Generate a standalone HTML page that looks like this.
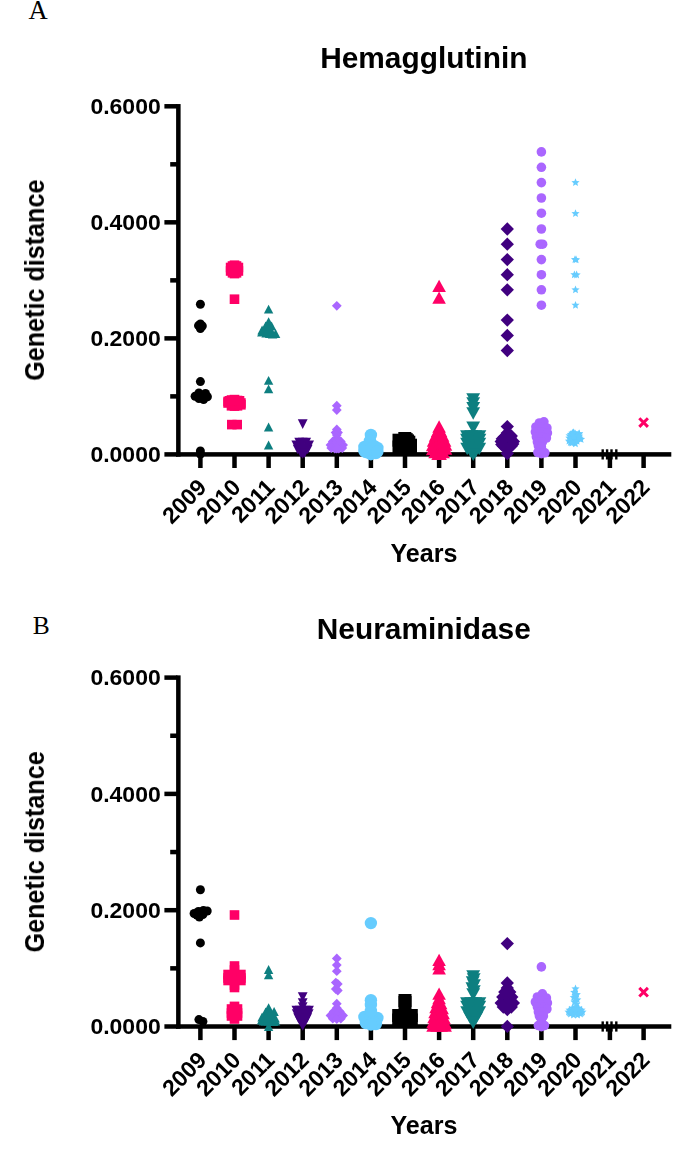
<!DOCTYPE html>
<html><head><meta charset="utf-8"><title>Genetic distance</title>
<style>html,body{margin:0;padding:0;background:#fff;}body{width:685px;height:1162px;overflow:hidden;font-family:"Liberation Sans",sans-serif;}svg{display:block;}</style>
</head><body>
<svg width="685" height="1162" viewBox="0 0 685 1162" font-family="Liberation Sans, sans-serif" fill="#000">
<defs><filter id="bl" x="0" y="0" width="685" height="1162" filterUnits="userSpaceOnUse"><feGaussianBlur stdDeviation="0.55"/></filter></defs>
<rect width="685" height="1162" fill="#fff"/>
<text x="28.6" y="18.6" font-family="Liberation Serif, serif" font-size="26.6">A</text>
<text x="32.7" y="634.3" font-family="Liberation Serif, serif" font-size="25.5">B</text>
<g id="pA" filter="url(#bl)">
<rect x="176.10" y="104.05" width="4.5" height="352.60" fill="#000"/>
<rect x="176.10" y="452.15" width="495.20" height="4.5" fill="#000"/>
<rect x="164.4" y="452.15" width="13" height="4.5" fill="#000"/>
<text transform="translate(160.7,462.00) scale(1,0.945)" text-anchor="end" font-size="23" font-weight="bold">0.0000</text>
<rect x="170.2" y="394.13" width="7" height="4.5" fill="#000"/>
<rect x="164.4" y="336.12" width="13" height="4.5" fill="#000"/>
<text transform="translate(160.7,345.97) scale(1,0.945)" text-anchor="end" font-size="23" font-weight="bold">0.2000</text>
<rect x="170.2" y="278.10" width="7" height="4.5" fill="#000"/>
<rect x="164.4" y="220.08" width="13" height="4.5" fill="#000"/>
<text transform="translate(160.7,229.93) scale(1,0.945)" text-anchor="end" font-size="23" font-weight="bold">0.4000</text>
<rect x="170.2" y="162.07" width="7" height="4.5" fill="#000"/>
<rect x="164.4" y="104.05" width="13" height="4.5" fill="#000"/>
<text transform="translate(160.7,113.90) scale(1,0.945)" text-anchor="end" font-size="23" font-weight="bold">0.6000</text>
<rect x="198.15" y="454.40" width="4.5" height="13.6" fill="#000"/>
<text transform="translate(207.90,488.70) rotate(-45)" text-anchor="end" font-size="23" font-weight="bold">2009</text>
<rect x="232.25" y="454.40" width="4.5" height="13.6" fill="#000"/>
<text transform="translate(242.00,488.70) rotate(-45)" text-anchor="end" font-size="23" font-weight="bold">2010</text>
<rect x="266.35" y="454.40" width="4.5" height="13.6" fill="#000"/>
<text transform="translate(276.10,488.70) rotate(-45)" text-anchor="end" font-size="23" font-weight="bold">2011</text>
<rect x="300.45" y="454.40" width="4.5" height="13.6" fill="#000"/>
<text transform="translate(310.20,488.70) rotate(-45)" text-anchor="end" font-size="23" font-weight="bold">2012</text>
<rect x="334.55" y="454.40" width="4.5" height="13.6" fill="#000"/>
<text transform="translate(344.30,488.70) rotate(-45)" text-anchor="end" font-size="23" font-weight="bold">2013</text>
<rect x="368.65" y="454.40" width="4.5" height="13.6" fill="#000"/>
<text transform="translate(378.40,488.70) rotate(-45)" text-anchor="end" font-size="23" font-weight="bold">2014</text>
<rect x="402.75" y="454.40" width="4.5" height="13.6" fill="#000"/>
<text transform="translate(412.50,488.70) rotate(-45)" text-anchor="end" font-size="23" font-weight="bold">2015</text>
<rect x="436.85" y="454.40" width="4.5" height="13.6" fill="#000"/>
<text transform="translate(446.60,488.70) rotate(-45)" text-anchor="end" font-size="23" font-weight="bold">2016</text>
<rect x="470.95" y="454.40" width="4.5" height="13.6" fill="#000"/>
<text transform="translate(480.70,488.70) rotate(-45)" text-anchor="end" font-size="23" font-weight="bold">2017</text>
<rect x="505.05" y="454.40" width="4.5" height="13.6" fill="#000"/>
<text transform="translate(514.80,488.70) rotate(-45)" text-anchor="end" font-size="23" font-weight="bold">2018</text>
<rect x="539.15" y="454.40" width="4.5" height="13.6" fill="#000"/>
<text transform="translate(548.90,488.70) rotate(-45)" text-anchor="end" font-size="23" font-weight="bold">2019</text>
<rect x="573.25" y="454.40" width="4.5" height="13.6" fill="#000"/>
<text transform="translate(583.00,488.70) rotate(-45)" text-anchor="end" font-size="23" font-weight="bold">2020</text>
<rect x="607.65" y="454.40" width="4.5" height="13.6" fill="#000"/>
<text transform="translate(617.40,488.70) rotate(-45)" text-anchor="end" font-size="23" font-weight="bold">2021</text>
<rect x="641.35" y="454.40" width="4.5" height="13.6" fill="#000"/>
<text transform="translate(651.10,488.70) rotate(-45)" text-anchor="end" font-size="23" font-weight="bold">2022</text>
<circle cx="200.40" cy="304.30" r="4.5" fill="#000000"/>
<circle cx="198.50" cy="325.60" r="4.5" fill="#000000"/>
<circle cx="202.30" cy="326.00" r="4.5" fill="#000000"/>
<circle cx="200.40" cy="328.60" r="4.5" fill="#000000"/>
<circle cx="200.40" cy="324.00" r="4.5" fill="#000000"/>
<circle cx="200.40" cy="381.60" r="4.5" fill="#000000"/>
<circle cx="195.10" cy="396.20" r="4.5" fill="#000000"/>
<circle cx="198.90" cy="393.00" r="4.5" fill="#000000"/>
<circle cx="205.50" cy="393.50" r="4.5" fill="#000000"/>
<circle cx="207.40" cy="396.70" r="4.5" fill="#000000"/>
<circle cx="203.60" cy="399.60" r="4.5" fill="#000000"/>
<circle cx="198.90" cy="398.60" r="4.5" fill="#000000"/>
<circle cx="200.40" cy="451.00" r="4.5" fill="#000000"/>
<circle cx="200.40" cy="454.00" r="4.5" fill="#000000"/>
<rect x="229.70" y="260.40" width="9.6" height="9.6" fill="#FF0066"/>
<rect x="225.80" y="262.70" width="9.6" height="9.6" fill="#FF0066"/>
<rect x="233.60" y="262.70" width="9.6" height="9.6" fill="#FF0066"/>
<rect x="225.80" y="266.20" width="9.6" height="9.6" fill="#FF0066"/>
<rect x="233.60" y="266.20" width="9.6" height="9.6" fill="#FF0066"/>
<rect x="229.70" y="268.80" width="9.6" height="9.6" fill="#FF0066"/>
<rect x="227.70" y="261.20" width="9.6" height="9.6" fill="#FF0066"/>
<rect x="231.70" y="261.20" width="9.6" height="9.6" fill="#FF0066"/>
<rect x="227.70" y="268.00" width="9.6" height="9.6" fill="#FF0066"/>
<rect x="231.70" y="268.00" width="9.6" height="9.6" fill="#FF0066"/>
<rect x="229.70" y="294.40" width="9.6" height="9.6" fill="#FF0066"/>
<rect x="223.30" y="398.20" width="9.6" height="9.6" fill="#FF0066"/>
<rect x="236.10" y="398.20" width="9.6" height="9.6" fill="#FF0066"/>
<rect x="229.70" y="394.80" width="9.6" height="9.6" fill="#FF0066"/>
<rect x="229.70" y="401.30" width="9.6" height="9.6" fill="#FF0066"/>
<rect x="226.70" y="395.20" width="9.6" height="9.6" fill="#FF0066"/>
<rect x="232.70" y="395.70" width="9.6" height="9.6" fill="#FF0066"/>
<rect x="226.70" y="401.00" width="9.6" height="9.6" fill="#FF0066"/>
<rect x="232.70" y="401.00" width="9.6" height="9.6" fill="#FF0066"/>
<rect x="223.30" y="396.70" width="9.6" height="9.6" fill="#FF0066"/>
<rect x="236.10" y="400.00" width="9.6" height="9.6" fill="#FF0066"/>
<rect x="224.70" y="396.00" width="9.6" height="9.6" fill="#FF0066"/>
<rect x="234.70" y="396.00" width="9.6" height="9.6" fill="#FF0066"/>
<rect x="227.00" y="419.80" width="9.6" height="9.6" fill="#FF0066"/>
<rect x="232.40" y="419.80" width="9.6" height="9.6" fill="#FF0066"/>
<polygon points="268.60,304.80 273.30,313.60 263.90,313.60" fill="#107F80"/>
<polygon points="268.60,317.20 273.30,326.00 263.90,326.00" fill="#107F80"/>
<polygon points="265.60,321.60 270.30,330.40 260.90,330.40" fill="#107F80"/>
<polygon points="271.60,321.60 276.30,330.40 266.90,330.40" fill="#107F80"/>
<polygon points="262.10,325.60 266.80,334.40 257.40,334.40" fill="#107F80"/>
<polygon points="266.60,325.60 271.30,334.40 261.90,334.40" fill="#107F80"/>
<polygon points="271.10,326.60 275.80,335.40 266.40,335.40" fill="#107F80"/>
<polygon points="275.60,329.10 280.30,337.90 270.90,337.90" fill="#107F80"/>
<polygon points="272.60,329.60 277.30,338.40 267.90,338.40" fill="#107F80"/>
<polygon points="263.60,327.10 268.30,335.90 258.90,335.90" fill="#107F80"/>
<polygon points="268.60,322.60 273.30,331.40 263.90,331.40" fill="#107F80"/>
<polygon points="261.80,327.80 266.50,336.60 257.10,336.60" fill="#107F80"/>
<polygon points="266.10,328.60 270.80,337.40 261.40,337.40" fill="#107F80"/>
<polygon points="269.60,329.10 274.30,337.90 264.90,337.90" fill="#107F80"/>
<polygon points="268.60,376.00 273.30,384.80 263.90,384.80" fill="#107F80"/>
<polygon points="268.60,384.40 273.30,393.20 263.90,393.20" fill="#107F80"/>
<polygon points="268.60,422.60 273.30,431.40 263.90,431.40" fill="#107F80"/>
<polygon points="268.60,440.60 273.30,449.40 263.90,449.40" fill="#107F80"/>
<polygon points="302.70,428.90 307.60,419.30 297.80,419.30" fill="#40007F"/>
<polygon points="299.20,447.30 304.10,437.70 294.30,437.70" fill="#40007F"/>
<polygon points="302.70,447.30 307.60,437.70 297.80,437.70" fill="#40007F"/>
<polygon points="306.20,447.30 311.10,437.70 301.30,437.70" fill="#40007F"/>
<polygon points="296.30,450.00 301.20,440.40 291.40,440.40" fill="#40007F"/>
<polygon points="309.10,450.00 314.00,440.40 304.20,440.40" fill="#40007F"/>
<polygon points="297.70,454.30 302.60,444.70 292.80,444.70" fill="#40007F"/>
<polygon points="307.70,454.30 312.60,444.70 302.80,444.70" fill="#40007F"/>
<polygon points="300.70,452.80 305.60,443.20 295.80,443.20" fill="#40007F"/>
<polygon points="304.70,452.80 309.60,443.20 299.80,443.20" fill="#40007F"/>
<polygon points="302.70,454.80 307.60,445.20 297.80,445.20" fill="#40007F"/>
<polygon points="300.90,458.00 305.80,448.40 296.00,448.40" fill="#40007F"/>
<polygon points="304.50,458.00 309.40,448.40 299.60,448.40" fill="#40007F"/>
<polygon points="302.70,458.70 307.60,449.10 297.80,449.10" fill="#40007F"/>
<polygon points="336.80,300.90 341.70,305.80 336.80,310.70 331.90,305.80" fill="#AA66FF"/>
<polygon points="336.80,400.80 341.70,405.70 336.80,410.60 331.90,405.70" fill="#AA66FF"/>
<polygon points="336.80,405.20 341.70,410.10 336.80,415.00 331.90,410.10" fill="#AA66FF"/>
<polygon points="336.80,424.50 341.70,429.40 336.80,434.30 331.90,429.40" fill="#AA66FF"/>
<polygon points="335.60,427.60 340.50,432.50 335.60,437.40 330.70,432.50" fill="#AA66FF"/>
<polygon points="338.00,427.60 342.90,432.50 338.00,437.40 333.10,432.50" fill="#AA66FF"/>
<polygon points="336.80,430.10 341.70,435.00 336.80,439.90 331.90,435.00" fill="#AA66FF"/>
<polygon points="336.80,433.10 341.70,438.00 336.80,442.90 331.90,438.00" fill="#AA66FF"/>
<polygon points="332.80,436.60 337.70,441.50 332.80,446.40 327.90,441.50" fill="#AA66FF"/>
<polygon points="340.80,436.60 345.70,441.50 340.80,446.40 335.90,441.50" fill="#AA66FF"/>
<polygon points="336.80,436.10 341.70,441.00 336.80,445.90 331.90,441.00" fill="#AA66FF"/>
<polygon points="330.50,440.10 335.40,445.00 330.50,449.90 325.60,445.00" fill="#AA66FF"/>
<polygon points="343.10,440.10 348.00,445.00 343.10,449.90 338.20,445.00" fill="#AA66FF"/>
<polygon points="334.30,440.10 339.20,445.00 334.30,449.90 329.40,445.00" fill="#AA66FF"/>
<polygon points="339.30,440.10 344.20,445.00 339.30,449.90 334.40,445.00" fill="#AA66FF"/>
<polygon points="331.30,443.10 336.20,448.00 331.30,452.90 326.40,448.00" fill="#AA66FF"/>
<polygon points="342.30,443.10 347.20,448.00 342.30,452.90 337.40,448.00" fill="#AA66FF"/>
<polygon points="334.80,443.60 339.70,448.50 334.80,453.40 329.90,448.50" fill="#AA66FF"/>
<polygon points="338.80,443.60 343.70,448.50 338.80,453.40 333.90,448.50" fill="#AA66FF"/>
<polygon points="336.80,443.60 341.70,448.50 336.80,453.40 331.90,448.50" fill="#AA66FF"/>
<circle cx="370.90" cy="435.00" r="6.2" fill="#66CCFE"/>
<circle cx="369.90" cy="441.00" r="6.2" fill="#66CCFE"/>
<circle cx="364.40" cy="447.00" r="6.2" fill="#66CCFE"/>
<circle cx="377.40" cy="448.00" r="6.2" fill="#66CCFE"/>
<circle cx="370.90" cy="446.00" r="6.2" fill="#66CCFE"/>
<circle cx="365.90" cy="452.00" r="6.2" fill="#66CCFE"/>
<circle cx="375.90" cy="453.00" r="6.2" fill="#66CCFE"/>
<circle cx="370.90" cy="454.20" r="6.2" fill="#66CCFE"/>
<circle cx="367.90" cy="450.00" r="6.2" fill="#66CCFE"/>
<circle cx="373.90" cy="450.00" r="6.2" fill="#66CCFE"/>
<circle cx="367.90" cy="445.50" r="6.2" fill="#66CCFE"/>
<circle cx="373.90" cy="446.00" r="6.2" fill="#66CCFE"/>
<circle cx="364.40" cy="451.00" r="6.2" fill="#66CCFE"/>
<circle cx="377.40" cy="451.50" r="6.2" fill="#66CCFE"/>
<rect x="392.50" y="433.70" width="13" height="13" fill="#000000"/>
<rect x="392.50" y="440.50" width="13" height="13" fill="#000000"/>
<rect x="398.30" y="432.00" width="13" height="13" fill="#000000"/>
<rect x="399.70" y="433.10" width="13" height="13" fill="#000000"/>
<rect x="401.00" y="434.40" width="13" height="13" fill="#000000"/>
<rect x="402.30" y="435.70" width="13" height="13" fill="#000000"/>
<rect x="404.00" y="438.70" width="13" height="13" fill="#000000"/>
<rect x="404.00" y="440.50" width="13" height="13" fill="#000000"/>
<rect x="398.50" y="440.50" width="13" height="13" fill="#000000"/>
<polygon points="439.10,279.65 445.90,291.95 432.30,291.95" fill="#FF0066"/>
<polygon points="439.10,291.55 445.90,303.85 432.30,303.85" fill="#FF0066"/>
<polygon points="439.10,420.35 445.90,432.65 432.30,432.65" fill="#FF0066"/>
<polygon points="437.60,424.85 444.40,437.15 430.80,437.15" fill="#FF0066"/>
<polygon points="440.60,424.85 447.40,437.15 433.80,437.15" fill="#FF0066"/>
<polygon points="435.60,429.35 442.40,441.65 428.80,441.65" fill="#FF0066"/>
<polygon points="442.60,429.35 449.40,441.65 435.80,441.65" fill="#FF0066"/>
<polygon points="439.10,429.35 445.90,441.65 432.30,441.65" fill="#FF0066"/>
<polygon points="433.60,434.35 440.40,446.65 426.80,446.65" fill="#FF0066"/>
<polygon points="444.60,434.35 451.40,446.65 437.80,446.65" fill="#FF0066"/>
<polygon points="437.60,434.35 444.40,446.65 430.80,446.65" fill="#FF0066"/>
<polygon points="440.60,434.85 447.40,447.15 433.80,447.15" fill="#FF0066"/>
<polygon points="432.70,438.85 439.50,451.15 425.90,451.15" fill="#FF0066"/>
<polygon points="445.50,438.35 452.30,450.65 438.70,450.65" fill="#FF0066"/>
<polygon points="439.10,438.85 445.90,451.15 432.30,451.15" fill="#FF0066"/>
<polygon points="436.10,439.85 442.90,452.15 429.30,452.15" fill="#FF0066"/>
<polygon points="442.10,439.85 448.90,452.15 435.30,452.15" fill="#FF0066"/>
<polygon points="432.70,442.85 439.50,455.15 425.90,455.15" fill="#FF0066"/>
<polygon points="445.50,442.35 452.30,454.65 438.70,454.65" fill="#FF0066"/>
<polygon points="439.10,442.85 445.90,455.15 432.30,455.15" fill="#FF0066"/>
<polygon points="435.10,445.85 441.90,458.15 428.30,458.15" fill="#FF0066"/>
<polygon points="443.10,445.85 449.90,458.15 436.30,458.15" fill="#FF0066"/>
<polygon points="438.10,447.75 444.90,460.05 431.30,460.05" fill="#FF0066"/>
<polygon points="440.10,447.75 446.90,460.05 433.30,460.05" fill="#FF0066"/>
<polygon points="473.20,405.75 480.10,393.25 466.30,393.25" fill="#107F80"/>
<polygon points="473.20,409.85 480.10,397.35 466.30,397.35" fill="#107F80"/>
<polygon points="473.20,414.45 480.10,401.95 466.30,401.95" fill="#107F80"/>
<polygon points="473.20,419.75 480.10,407.25 466.30,407.25" fill="#107F80"/>
<polygon points="473.20,434.05 480.10,421.55 466.30,421.55" fill="#107F80"/>
<polygon points="467.00,442.75 473.90,430.25 460.10,430.25" fill="#107F80"/>
<polygon points="471.20,442.75 478.10,430.25 464.30,430.25" fill="#107F80"/>
<polygon points="475.20,442.75 482.10,430.25 468.30,430.25" fill="#107F80"/>
<polygon points="479.40,442.75 486.30,430.25 472.50,430.25" fill="#107F80"/>
<polygon points="467.00,446.25 473.90,433.75 460.10,433.75" fill="#107F80"/>
<polygon points="473.20,446.25 480.10,433.75 466.30,433.75" fill="#107F80"/>
<polygon points="479.40,446.25 486.30,433.75 472.50,433.75" fill="#107F80"/>
<polygon points="467.10,450.25 474.00,437.75 460.20,437.75" fill="#107F80"/>
<polygon points="471.20,450.25 478.10,437.75 464.30,437.75" fill="#107F80"/>
<polygon points="475.20,450.25 482.10,437.75 468.30,437.75" fill="#107F80"/>
<polygon points="479.30,450.25 486.20,437.75 472.40,437.75" fill="#107F80"/>
<polygon points="467.20,455.25 474.10,442.75 460.30,442.75" fill="#107F80"/>
<polygon points="473.20,455.25 480.10,442.75 466.30,442.75" fill="#107F80"/>
<polygon points="479.20,455.25 486.10,442.75 472.30,442.75" fill="#107F80"/>
<polygon points="470.70,457.75 477.60,445.25 463.80,445.25" fill="#107F80"/>
<polygon points="475.70,457.75 482.60,445.25 468.80,445.25" fill="#107F80"/>
<polygon points="473.20,460.95 480.10,448.45 466.30,448.45" fill="#107F80"/>
<polygon points="507.30,222.35 513.95,229.00 507.30,235.65 500.65,229.00" fill="#40007F"/>
<polygon points="507.30,237.55 513.95,244.20 507.30,250.85 500.65,244.20" fill="#40007F"/>
<polygon points="507.30,252.95 513.95,259.60 507.30,266.25 500.65,259.60" fill="#40007F"/>
<polygon points="507.30,268.05 513.95,274.70 507.30,281.35 500.65,274.70" fill="#40007F"/>
<polygon points="507.30,283.15 513.95,289.80 507.30,296.45 500.65,289.80" fill="#40007F"/>
<polygon points="507.30,313.45 513.95,320.10 507.30,326.75 500.65,320.10" fill="#40007F"/>
<polygon points="507.30,328.75 513.95,335.40 507.30,342.05 500.65,335.40" fill="#40007F"/>
<polygon points="507.30,343.85 513.95,350.50 507.30,357.15 500.65,350.50" fill="#40007F"/>
<polygon points="507.30,419.95 513.95,426.60 507.30,433.25 500.65,426.60" fill="#40007F"/>
<polygon points="507.30,426.35 513.95,433.00 507.30,439.65 500.65,433.00" fill="#40007F"/>
<polygon points="504.30,430.35 510.95,437.00 504.30,443.65 497.65,437.00" fill="#40007F"/>
<polygon points="510.30,430.35 516.95,437.00 510.30,443.65 503.65,437.00" fill="#40007F"/>
<polygon points="501.20,434.85 507.85,441.50 501.20,448.15 494.55,441.50" fill="#40007F"/>
<polygon points="507.30,434.85 513.95,441.50 507.30,448.15 500.65,441.50" fill="#40007F"/>
<polygon points="513.40,434.85 520.05,441.50 513.40,448.15 506.75,441.50" fill="#40007F"/>
<polygon points="503.30,439.35 509.95,446.00 503.30,452.65 496.65,446.00" fill="#40007F"/>
<polygon points="511.30,439.35 517.95,446.00 511.30,452.65 504.65,446.00" fill="#40007F"/>
<polygon points="507.30,442.35 513.95,449.00 507.30,455.65 500.65,449.00" fill="#40007F"/>
<polygon points="507.30,446.95 513.95,453.60 507.30,460.25 500.65,453.60" fill="#40007F"/>
<polygon points="501.80,437.85 508.45,444.50 501.80,451.15 495.15,444.50" fill="#40007F"/>
<polygon points="512.80,437.35 519.45,444.00 512.80,450.65 506.15,444.00" fill="#40007F"/>
<polygon points="502.30,432.15 508.95,438.80 502.30,445.45 495.65,438.80" fill="#40007F"/>
<polygon points="511.30,429.35 517.95,436.00 511.30,442.65 504.65,436.00" fill="#40007F"/>
<circle cx="541.40" cy="151.90" r="4.8" fill="#AA66FF"/>
<circle cx="541.40" cy="167.30" r="4.8" fill="#AA66FF"/>
<circle cx="541.40" cy="182.60" r="4.8" fill="#AA66FF"/>
<circle cx="541.40" cy="198.00" r="4.8" fill="#AA66FF"/>
<circle cx="541.40" cy="213.20" r="4.8" fill="#AA66FF"/>
<circle cx="541.40" cy="229.00" r="4.8" fill="#AA66FF"/>
<circle cx="541.40" cy="259.60" r="4.8" fill="#AA66FF"/>
<circle cx="541.40" cy="274.70" r="4.8" fill="#AA66FF"/>
<circle cx="541.40" cy="289.80" r="4.8" fill="#AA66FF"/>
<circle cx="541.40" cy="305.20" r="4.8" fill="#AA66FF"/>
<circle cx="540.20" cy="244.20" r="4.8" fill="#AA66FF"/>
<circle cx="542.60" cy="244.20" r="4.8" fill="#AA66FF"/>
<circle cx="543.90" cy="421.80" r="4.8" fill="#AA66FF"/>
<circle cx="539.40" cy="423.00" r="4.8" fill="#AA66FF"/>
<circle cx="535.90" cy="427.00" r="4.8" fill="#AA66FF"/>
<circle cx="541.40" cy="427.00" r="4.8" fill="#AA66FF"/>
<circle cx="546.90" cy="428.00" r="4.8" fill="#AA66FF"/>
<circle cx="535.40" cy="432.00" r="4.8" fill="#AA66FF"/>
<circle cx="541.40" cy="432.00" r="4.8" fill="#AA66FF"/>
<circle cx="547.40" cy="433.00" r="4.8" fill="#AA66FF"/>
<circle cx="536.40" cy="437.00" r="4.8" fill="#AA66FF"/>
<circle cx="542.40" cy="437.00" r="4.8" fill="#AA66FF"/>
<circle cx="546.40" cy="438.00" r="4.8" fill="#AA66FF"/>
<circle cx="537.40" cy="442.00" r="4.8" fill="#AA66FF"/>
<circle cx="542.40" cy="442.00" r="4.8" fill="#AA66FF"/>
<circle cx="538.40" cy="446.00" r="4.8" fill="#AA66FF"/>
<circle cx="541.40" cy="447.00" r="4.8" fill="#AA66FF"/>
<circle cx="537.90" cy="452.50" r="4.8" fill="#AA66FF"/>
<circle cx="541.40" cy="453.60" r="4.8" fill="#AA66FF"/>
<circle cx="544.90" cy="452.80" r="4.8" fill="#AA66FF"/>
<polygon points="575.50,178.30 576.64,181.03 579.59,181.27 577.34,183.20 578.03,186.08 575.50,184.53 572.97,186.08 573.66,183.20 571.41,181.27 574.36,181.03" fill="#66CCFE"/>
<polygon points="575.50,209.30 576.64,212.03 579.59,212.27 577.34,214.20 578.03,217.08 575.50,215.53 572.97,217.08 573.66,214.20 571.41,212.27 574.36,212.03" fill="#66CCFE"/>
<polygon points="575.00,255.30 576.14,258.03 579.09,258.27 576.84,260.20 577.53,263.08 575.00,261.54 572.47,263.08 573.16,260.20 570.91,258.27 573.86,258.03" fill="#66CCFE"/>
<polygon points="576.10,255.50 577.24,258.23 580.19,258.47 577.94,260.40 578.63,263.28 576.10,261.74 573.57,263.28 574.26,260.40 572.01,258.47 574.96,258.23" fill="#66CCFE"/>
<polygon points="574.40,270.40 575.54,273.13 578.49,273.37 576.24,275.30 576.93,278.18 574.40,276.63 571.87,278.18 572.56,275.30 570.31,273.37 573.26,273.13" fill="#66CCFE"/>
<polygon points="576.60,270.60 577.74,273.33 580.69,273.57 578.44,275.50 579.13,278.38 576.60,276.83 574.07,278.38 574.76,275.50 572.51,273.57 575.46,273.33" fill="#66CCFE"/>
<polygon points="575.50,285.50 576.64,288.23 579.59,288.47 577.34,290.40 578.03,293.28 575.50,291.74 572.97,293.28 573.66,290.40 571.41,288.47 574.36,288.23" fill="#66CCFE"/>
<polygon points="575.50,300.90 576.64,303.63 579.59,303.87 577.34,305.80 578.03,308.68 575.50,307.13 572.97,308.68 573.66,305.80 571.41,303.87 574.36,303.63" fill="#66CCFE"/>
<polygon points="575.37,439.46 576.51,442.19 579.46,442.43 577.21,444.35 577.90,447.23 575.37,445.69 572.84,447.23 573.53,444.35 571.28,442.43 574.23,442.19" fill="#66CCFE"/>
<polygon points="571.49,438.34 572.63,441.07 575.58,441.31 573.33,443.24 574.02,446.12 571.49,444.57 568.96,446.12 569.65,443.24 567.40,441.31 570.35,441.07" fill="#66CCFE"/>
<polygon points="573.81,433.40 574.95,436.13 577.90,436.37 575.65,438.30 576.34,441.18 573.81,439.63 571.28,441.18 571.97,438.30 569.72,436.37 572.67,436.13" fill="#66CCFE"/>
<polygon points="581.02,435.10 582.16,437.83 585.11,438.07 582.86,440.00 583.55,442.88 581.02,441.33 578.49,442.88 579.18,440.00 576.93,438.07 579.88,437.83" fill="#66CCFE"/>
<polygon points="574.81,437.79 575.95,440.52 578.90,440.76 576.65,442.69 577.34,445.57 574.81,444.02 572.28,445.57 572.97,442.69 570.72,440.76 573.67,440.52" fill="#66CCFE"/>
<polygon points="579.52,434.48 580.66,437.21 583.61,437.45 581.36,439.37 582.05,442.25 579.52,440.71 577.00,442.25 577.68,439.37 575.43,437.45 578.39,437.21" fill="#66CCFE"/>
<polygon points="577.35,430.70 578.49,433.44 581.44,433.67 579.19,435.60 579.88,438.48 577.35,436.94 574.83,438.48 575.51,435.60 573.27,433.67 576.22,433.44" fill="#66CCFE"/>
<polygon points="573.36,432.64 574.49,435.37 577.45,435.61 575.20,437.53 575.88,440.41 573.36,438.87 570.83,440.41 571.52,437.53 569.27,435.61 572.22,435.37" fill="#66CCFE"/>
<polygon points="570.93,429.99 572.07,432.73 575.02,432.96 572.77,434.89 573.46,437.77 570.93,436.23 568.40,437.77 569.09,434.89 566.84,432.96 569.79,432.73" fill="#66CCFE"/>
<polygon points="569.38,433.78 570.52,436.51 573.47,436.75 571.22,438.67 571.91,441.55 569.38,440.01 566.85,441.55 567.54,438.67 565.29,436.75 568.24,436.51" fill="#66CCFE"/>
<polygon points="574.21,433.13 575.35,435.86 578.30,436.10 576.05,438.03 576.74,440.91 574.21,439.36 571.68,440.91 572.37,438.03 570.12,436.10 573.07,435.86" fill="#66CCFE"/>
<polygon points="575.26,429.53 576.40,432.27 579.35,432.50 577.10,434.43 577.79,437.31 575.26,435.77 572.73,437.31 573.42,434.43 571.17,432.50 574.12,432.27" fill="#66CCFE"/>
<polygon points="574.63,435.70 575.77,438.44 578.72,438.67 576.47,440.60 577.16,443.48 574.63,441.94 572.10,443.48 572.79,440.60 570.54,438.67 573.49,438.44" fill="#66CCFE"/>
<polygon points="578.01,431.21 579.15,433.94 582.10,434.18 579.85,436.10 580.54,438.98 578.01,437.44 575.48,438.98 576.17,436.10 573.92,434.18 576.87,433.94" fill="#66CCFE"/>
<polygon points="573.80,428.53 574.93,431.27 577.89,431.50 575.64,433.43 576.32,436.31 573.80,434.77 571.27,436.31 571.96,433.43 569.71,431.50 572.66,431.27" fill="#66CCFE"/>
<polygon points="573.58,428.43 574.72,431.16 577.67,431.40 575.42,433.32 576.11,436.20 573.58,434.66 571.06,436.20 571.74,433.32 569.49,431.40 572.45,431.16" fill="#66CCFE"/>
<polygon points="570.33,438.22 571.47,440.96 574.42,441.19 572.17,443.12 572.86,446.00 570.33,444.46 567.81,446.00 568.49,443.12 566.24,441.19 569.20,440.96" fill="#66CCFE"/>
<polygon points="569.00,436.78 570.14,439.51 573.09,439.75 570.84,441.67 571.53,444.56 569.00,443.01 566.47,444.56 567.16,441.67 564.91,439.75 567.86,439.51" fill="#66CCFE"/>
<polygon points="576.49,433.18 577.63,435.91 580.58,436.15 578.33,438.08 579.02,440.96 576.49,439.41 573.96,440.96 574.65,438.08 572.40,436.15 575.35,435.91" fill="#66CCFE"/>
<polygon points="577.02,436.92 578.16,439.65 581.11,439.89 578.86,441.82 579.55,444.70 577.02,443.15 574.49,444.70 575.18,441.82 572.93,439.89 575.88,439.65" fill="#66CCFE"/>
<polygon points="579.26,433.66 580.39,436.40 583.35,436.63 581.10,438.56 581.78,441.44 579.26,439.90 576.73,441.44 577.42,438.56 575.17,436.63 578.12,436.40" fill="#66CCFE"/>
<polygon points="572.47,432.01 573.60,434.75 576.56,434.98 574.31,436.91 574.99,439.79 572.47,438.25 569.94,439.79 570.63,436.91 568.38,434.98 571.33,434.75" fill="#66CCFE"/>
<polygon points="570.90,434.41 572.04,437.15 574.99,437.38 572.74,439.31 573.43,442.19 570.90,440.65 568.38,442.19 569.06,439.31 566.81,437.38 569.77,437.15" fill="#66CCFE"/>
<polygon points="572.01,438.67 573.15,441.40 576.10,441.64 573.85,443.57 574.54,446.45 572.01,444.90 569.48,446.45 570.17,443.57 567.92,441.64 570.87,441.40" fill="#66CCFE"/>
<polygon points="569.58,431.43 570.72,434.17 573.67,434.40 571.42,436.33 572.11,439.21 569.58,437.67 567.06,439.21 567.74,436.33 565.49,434.40 568.45,434.17" fill="#66CCFE"/>
<polygon points="572.36,428.81 573.50,431.55 576.45,431.78 574.20,433.71 574.89,436.59 572.36,435.05 569.84,436.59 570.52,433.71 568.27,431.78 571.23,431.55" fill="#66CCFE"/>
<polygon points="579.07,429.44 580.21,432.18 583.16,432.42 580.91,434.34 581.60,437.22 579.07,435.68 576.54,437.22 577.23,434.34 574.98,432.42 577.94,432.18" fill="#66CCFE"/>
<polygon points="573.73,432.25 574.87,434.99 577.82,435.23 575.57,437.15 576.26,440.03 573.73,438.49 571.21,440.03 571.89,437.15 569.65,435.23 572.60,434.99" fill="#66CCFE"/>
<polygon points="579.15,429.62 580.29,432.36 583.24,432.59 580.99,434.52 581.68,437.40 579.15,435.86 576.62,437.40 577.31,434.52 575.06,432.59 578.01,432.36" fill="#66CCFE"/>
<polygon points="579.11,431.79 580.25,434.53 583.20,434.76 580.95,436.69 581.64,439.57 579.11,438.03 576.59,439.57 577.27,436.69 575.02,434.76 577.98,434.53" fill="#66CCFE"/>
<rect x="601.50" y="449.30" width="2.4" height="10.2" fill="#000000"/>
<rect x="605.90" y="449.30" width="2.4" height="10.2" fill="#000000"/>
<rect x="610.30" y="449.30" width="2.4" height="10.2" fill="#000000"/>
<rect x="615.10" y="449.30" width="2.4" height="10.2" fill="#000000"/>
<path d="M639.30,418.30L647.90,426.90M639.30,426.90L647.90,418.30" stroke="#FF0066" stroke-width="3" fill="none"/>
<text x="423.8" y="68" text-anchor="middle" font-size="29.85" font-weight="bold">Hemagglutinin</text>
<text x="423.9" y="561.50" text-anchor="middle" font-size="25.1" font-weight="bold">Years</text>
<text transform="translate(44.0,280.20) rotate(-90) scale(0.921,1)" text-anchor="middle" font-size="27.3" font-weight="bold">Genetic distance</text>
</g>
<g id="pB" filter="url(#bl)">
<rect x="176.10" y="675.35" width="4.5" height="353.40" fill="#000"/>
<rect x="176.10" y="1024.25" width="495.20" height="4.5" fill="#000"/>
<rect x="164.4" y="1024.25" width="13" height="4.5" fill="#000"/>
<text transform="translate(160.7,1034.10) scale(1,0.945)" text-anchor="end" font-size="23" font-weight="bold">0.0000</text>
<rect x="170.2" y="966.10" width="7" height="4.5" fill="#000"/>
<rect x="164.4" y="907.95" width="13" height="4.5" fill="#000"/>
<text transform="translate(160.7,917.80) scale(1,0.945)" text-anchor="end" font-size="23" font-weight="bold">0.2000</text>
<rect x="170.2" y="849.80" width="7" height="4.5" fill="#000"/>
<rect x="164.4" y="791.65" width="13" height="4.5" fill="#000"/>
<text transform="translate(160.7,801.50) scale(1,0.945)" text-anchor="end" font-size="23" font-weight="bold">0.4000</text>
<rect x="170.2" y="733.50" width="7" height="4.5" fill="#000"/>
<rect x="164.4" y="675.35" width="13" height="4.5" fill="#000"/>
<text transform="translate(160.7,685.20) scale(1,0.945)" text-anchor="end" font-size="23" font-weight="bold">0.6000</text>
<rect x="198.15" y="1026.50" width="4.5" height="13.6" fill="#000"/>
<text transform="translate(207.90,1061.40) rotate(-45)" text-anchor="end" font-size="23" font-weight="bold">2009</text>
<rect x="232.25" y="1026.50" width="4.5" height="13.6" fill="#000"/>
<text transform="translate(242.00,1061.40) rotate(-45)" text-anchor="end" font-size="23" font-weight="bold">2010</text>
<rect x="266.35" y="1026.50" width="4.5" height="13.6" fill="#000"/>
<text transform="translate(276.10,1061.40) rotate(-45)" text-anchor="end" font-size="23" font-weight="bold">2011</text>
<rect x="300.45" y="1026.50" width="4.5" height="13.6" fill="#000"/>
<text transform="translate(310.20,1061.40) rotate(-45)" text-anchor="end" font-size="23" font-weight="bold">2012</text>
<rect x="334.55" y="1026.50" width="4.5" height="13.6" fill="#000"/>
<text transform="translate(344.30,1061.40) rotate(-45)" text-anchor="end" font-size="23" font-weight="bold">2013</text>
<rect x="368.65" y="1026.50" width="4.5" height="13.6" fill="#000"/>
<text transform="translate(378.40,1061.40) rotate(-45)" text-anchor="end" font-size="23" font-weight="bold">2014</text>
<rect x="402.75" y="1026.50" width="4.5" height="13.6" fill="#000"/>
<text transform="translate(412.50,1061.40) rotate(-45)" text-anchor="end" font-size="23" font-weight="bold">2015</text>
<rect x="436.85" y="1026.50" width="4.5" height="13.6" fill="#000"/>
<text transform="translate(446.60,1061.40) rotate(-45)" text-anchor="end" font-size="23" font-weight="bold">2016</text>
<rect x="470.95" y="1026.50" width="4.5" height="13.6" fill="#000"/>
<text transform="translate(480.70,1061.40) rotate(-45)" text-anchor="end" font-size="23" font-weight="bold">2017</text>
<rect x="505.05" y="1026.50" width="4.5" height="13.6" fill="#000"/>
<text transform="translate(514.80,1061.40) rotate(-45)" text-anchor="end" font-size="23" font-weight="bold">2018</text>
<rect x="539.15" y="1026.50" width="4.5" height="13.6" fill="#000"/>
<text transform="translate(548.90,1061.40) rotate(-45)" text-anchor="end" font-size="23" font-weight="bold">2019</text>
<rect x="573.25" y="1026.50" width="4.5" height="13.6" fill="#000"/>
<text transform="translate(583.00,1061.40) rotate(-45)" text-anchor="end" font-size="23" font-weight="bold">2020</text>
<rect x="607.65" y="1026.50" width="4.5" height="13.6" fill="#000"/>
<text transform="translate(617.40,1061.40) rotate(-45)" text-anchor="end" font-size="23" font-weight="bold">2021</text>
<rect x="641.35" y="1026.50" width="4.5" height="13.6" fill="#000"/>
<text transform="translate(651.10,1061.40) rotate(-45)" text-anchor="end" font-size="23" font-weight="bold">2022</text>
<circle cx="200.40" cy="889.80" r="4.5" fill="#000000"/>
<circle cx="194.10" cy="913.50" r="4.5" fill="#000000"/>
<circle cx="198.40" cy="911.50" r="4.5" fill="#000000"/>
<circle cx="203.40" cy="910.50" r="4.5" fill="#000000"/>
<circle cx="207.20" cy="911.00" r="4.5" fill="#000000"/>
<circle cx="199.40" cy="917.00" r="4.5" fill="#000000"/>
<circle cx="202.90" cy="914.50" r="4.5" fill="#000000"/>
<circle cx="196.90" cy="915.00" r="4.5" fill="#000000"/>
<circle cx="200.40" cy="942.90" r="4.5" fill="#000000"/>
<circle cx="198.90" cy="1019.60" r="4.5" fill="#000000"/>
<circle cx="202.90" cy="1021.50" r="4.5" fill="#000000"/>
<rect x="229.70" y="910.20" width="9.6" height="9.6" fill="#FF0066"/>
<rect x="229.70" y="961.20" width="9.6" height="9.6" fill="#FF0066"/>
<rect x="229.70" y="965.20" width="9.6" height="9.6" fill="#FF0066"/>
<rect x="229.70" y="970.20" width="9.6" height="9.6" fill="#FF0066"/>
<rect x="229.70" y="975.20" width="9.6" height="9.6" fill="#FF0066"/>
<rect x="229.70" y="980.20" width="9.6" height="9.6" fill="#FF0066"/>
<rect x="229.70" y="982.70" width="9.6" height="9.6" fill="#FF0066"/>
<rect x="223.30" y="969.70" width="9.6" height="9.6" fill="#FF0066"/>
<rect x="236.10" y="969.70" width="9.6" height="9.6" fill="#FF0066"/>
<rect x="223.30" y="973.20" width="9.6" height="9.6" fill="#FF0066"/>
<rect x="236.10" y="973.20" width="9.6" height="9.6" fill="#FF0066"/>
<rect x="223.30" y="975.70" width="9.6" height="9.6" fill="#FF0066"/>
<rect x="236.10" y="975.70" width="9.6" height="9.6" fill="#FF0066"/>
<rect x="229.70" y="1001.60" width="9.6" height="9.6" fill="#FF0066"/>
<rect x="226.70" y="1004.20" width="9.6" height="9.6" fill="#FF0066"/>
<rect x="232.70" y="1004.20" width="9.6" height="9.6" fill="#FF0066"/>
<rect x="226.70" y="1008.20" width="9.6" height="9.6" fill="#FF0066"/>
<rect x="232.70" y="1008.20" width="9.6" height="9.6" fill="#FF0066"/>
<rect x="226.70" y="1011.20" width="9.6" height="9.6" fill="#FF0066"/>
<rect x="232.70" y="1011.20" width="9.6" height="9.6" fill="#FF0066"/>
<rect x="229.70" y="1014.20" width="9.6" height="9.6" fill="#FF0066"/>
<polygon points="268.60,965.10 273.30,973.90 263.90,973.90" fill="#107F80"/>
<polygon points="268.60,970.40 273.30,979.20 263.90,979.20" fill="#107F80"/>
<polygon points="268.60,1003.20 273.30,1012.00 263.90,1012.00" fill="#107F80"/>
<polygon points="274.10,1007.10 278.80,1015.90 269.40,1015.90" fill="#107F80"/>
<polygon points="265.60,1007.60 270.30,1016.40 260.90,1016.40" fill="#107F80"/>
<polygon points="262.10,1012.60 266.80,1021.40 257.40,1021.40" fill="#107F80"/>
<polygon points="268.60,1011.60 273.30,1020.40 263.90,1020.40" fill="#107F80"/>
<polygon points="275.10,1013.60 279.80,1022.40 270.40,1022.40" fill="#107F80"/>
<polygon points="265.60,1016.60 270.30,1025.40 260.90,1025.40" fill="#107F80"/>
<polygon points="271.60,1016.60 276.30,1025.40 266.90,1025.40" fill="#107F80"/>
<polygon points="268.60,1022.10 273.30,1030.90 263.90,1030.90" fill="#107F80"/>
<polygon points="261.60,1015.60 266.30,1024.40 256.90,1024.40" fill="#107F80"/>
<polygon points="275.60,1016.60 280.30,1025.40 270.90,1025.40" fill="#107F80"/>
<polygon points="268.60,1007.60 273.30,1016.40 263.90,1016.40" fill="#107F80"/>
<polygon points="271.60,1011.60 276.30,1020.40 266.90,1020.40" fill="#107F80"/>
<polygon points="265.60,1012.10 270.30,1020.90 260.90,1020.90" fill="#107F80"/>
<polygon points="268.60,1016.60 273.30,1025.40 263.90,1025.40" fill="#107F80"/>
<polygon points="263.60,1016.60 268.30,1025.40 258.90,1025.40" fill="#107F80"/>
<polygon points="273.60,1017.10 278.30,1025.90 268.90,1025.90" fill="#107F80"/>
<polygon points="270.10,1009.10 274.80,1017.90 265.40,1017.90" fill="#107F80"/>
<polygon points="267.10,1013.60 271.80,1022.40 262.40,1022.40" fill="#107F80"/>
<polygon points="302.70,1001.80 307.60,992.20 297.80,992.20" fill="#40007F"/>
<polygon points="302.70,1007.80 307.60,998.20 297.80,998.20" fill="#40007F"/>
<polygon points="302.70,1011.80 307.60,1002.20 297.80,1002.20" fill="#40007F"/>
<polygon points="296.40,1015.30 301.30,1005.70 291.50,1005.70" fill="#40007F"/>
<polygon points="299.70,1015.30 304.60,1005.70 294.80,1005.70" fill="#40007F"/>
<polygon points="305.70,1015.30 310.60,1005.70 300.80,1005.70" fill="#40007F"/>
<polygon points="309.00,1015.30 313.90,1005.70 304.10,1005.70" fill="#40007F"/>
<polygon points="296.70,1018.80 301.60,1009.20 291.80,1009.20" fill="#40007F"/>
<polygon points="300.70,1018.80 305.60,1009.20 295.80,1009.20" fill="#40007F"/>
<polygon points="304.70,1018.80 309.60,1009.20 299.80,1009.20" fill="#40007F"/>
<polygon points="308.70,1018.80 313.60,1009.20 303.80,1009.20" fill="#40007F"/>
<polygon points="298.20,1022.80 303.10,1013.20 293.30,1013.20" fill="#40007F"/>
<polygon points="302.70,1022.80 307.60,1013.20 297.80,1013.20" fill="#40007F"/>
<polygon points="307.20,1022.80 312.10,1013.20 302.30,1013.20" fill="#40007F"/>
<polygon points="300.20,1026.30 305.10,1016.70 295.30,1016.70" fill="#40007F"/>
<polygon points="305.20,1026.30 310.10,1016.70 300.30,1016.70" fill="#40007F"/>
<polygon points="302.70,1030.80 307.60,1021.20 297.80,1021.20" fill="#40007F"/>
<polygon points="336.80,953.60 341.70,958.50 336.80,963.40 331.90,958.50" fill="#AA66FF"/>
<polygon points="336.80,960.20 341.70,965.10 336.80,970.00 331.90,965.10" fill="#AA66FF"/>
<polygon points="336.80,966.30 341.70,971.20 336.80,976.10 331.90,971.20" fill="#AA66FF"/>
<polygon points="335.80,977.70 340.70,982.60 335.80,987.50 330.90,982.60" fill="#AA66FF"/>
<polygon points="337.80,979.10 342.70,984.00 337.80,988.90 332.90,984.00" fill="#AA66FF"/>
<polygon points="335.80,984.10 340.70,989.00 335.80,993.90 330.90,989.00" fill="#AA66FF"/>
<polygon points="337.80,985.60 342.70,990.50 337.80,995.40 332.90,990.50" fill="#AA66FF"/>
<polygon points="336.80,998.80 341.70,1003.70 336.80,1008.60 331.90,1003.70" fill="#AA66FF"/>
<polygon points="336.80,1003.10 341.70,1008.00 336.80,1012.90 331.90,1008.00" fill="#AA66FF"/>
<polygon points="333.80,1006.60 338.70,1011.50 333.80,1016.40 328.90,1011.50" fill="#AA66FF"/>
<polygon points="339.80,1006.60 344.70,1011.50 339.80,1016.40 334.90,1011.50" fill="#AA66FF"/>
<polygon points="330.50,1010.60 335.40,1015.50 330.50,1020.40 325.60,1015.50" fill="#AA66FF"/>
<polygon points="336.80,1010.60 341.70,1015.50 336.80,1020.40 331.90,1015.50" fill="#AA66FF"/>
<polygon points="343.10,1010.60 348.00,1015.50 343.10,1020.40 338.20,1015.50" fill="#AA66FF"/>
<polygon points="332.80,1013.80 337.70,1018.70 332.80,1023.60 327.90,1018.70" fill="#AA66FF"/>
<polygon points="340.80,1013.80 345.70,1018.70 340.80,1023.60 335.90,1018.70" fill="#AA66FF"/>
<polygon points="336.80,1014.10 341.70,1019.00 336.80,1023.90 331.90,1019.00" fill="#AA66FF"/>
<circle cx="370.90" cy="923.10" r="6.2" fill="#66CCFE"/>
<circle cx="370.90" cy="1000.20" r="6.2" fill="#66CCFE"/>
<circle cx="370.90" cy="1005.00" r="6.2" fill="#66CCFE"/>
<circle cx="364.40" cy="1017.00" r="6.2" fill="#66CCFE"/>
<circle cx="377.40" cy="1018.00" r="6.2" fill="#66CCFE"/>
<circle cx="370.90" cy="1016.00" r="6.2" fill="#66CCFE"/>
<circle cx="365.90" cy="1023.00" r="6.2" fill="#66CCFE"/>
<circle cx="375.90" cy="1024.00" r="6.2" fill="#66CCFE"/>
<circle cx="370.90" cy="1024.50" r="6.2" fill="#66CCFE"/>
<circle cx="370.90" cy="1011.00" r="6.2" fill="#66CCFE"/>
<rect x="398.50" y="994.00" width="13" height="13" fill="#000000"/>
<rect x="398.50" y="996.00" width="13" height="13" fill="#000000"/>
<rect x="392.20" y="1009.00" width="13" height="13" fill="#000000"/>
<rect x="404.80" y="1009.00" width="13" height="13" fill="#000000"/>
<rect x="392.20" y="1013.50" width="13" height="13" fill="#000000"/>
<rect x="404.80" y="1013.50" width="13" height="13" fill="#000000"/>
<rect x="398.50" y="1011.50" width="13" height="13" fill="#000000"/>
<polygon points="439.10,953.75 445.90,966.05 432.30,966.05" fill="#FF0066"/>
<polygon points="439.10,957.85 445.90,970.15 432.30,970.15" fill="#FF0066"/>
<polygon points="439.10,962.15 445.90,974.45 432.30,974.45" fill="#FF0066"/>
<polygon points="439.10,987.55 445.90,999.85 432.30,999.85" fill="#FF0066"/>
<polygon points="439.10,991.85 445.90,1004.15 432.30,1004.15" fill="#FF0066"/>
<polygon points="437.60,995.85 444.40,1008.15 430.80,1008.15" fill="#FF0066"/>
<polygon points="440.60,996.85 447.40,1009.15 433.80,1009.15" fill="#FF0066"/>
<polygon points="436.10,1000.85 442.90,1013.15 429.30,1013.15" fill="#FF0066"/>
<polygon points="442.10,1001.85 448.90,1014.15 435.30,1014.15" fill="#FF0066"/>
<polygon points="435.10,1005.85 441.90,1018.15 428.30,1018.15" fill="#FF0066"/>
<polygon points="443.10,1006.85 449.90,1019.15 436.30,1019.15" fill="#FF0066"/>
<polygon points="439.10,1005.85 445.90,1018.15 432.30,1018.15" fill="#FF0066"/>
<polygon points="434.10,1010.85 440.90,1023.15 427.30,1023.15" fill="#FF0066"/>
<polygon points="444.10,1011.85 450.90,1024.15 437.30,1024.15" fill="#FF0066"/>
<polygon points="439.10,1011.85 445.90,1024.15 432.30,1024.15" fill="#FF0066"/>
<polygon points="433.10,1015.85 439.90,1028.15 426.30,1028.15" fill="#FF0066"/>
<polygon points="445.10,1016.85 451.90,1029.15 438.30,1029.15" fill="#FF0066"/>
<polygon points="439.10,1016.85 445.90,1029.15 432.30,1029.15" fill="#FF0066"/>
<polygon points="433.10,1019.45 439.90,1031.75 426.30,1031.75" fill="#FF0066"/>
<polygon points="445.10,1019.45 451.90,1031.75 438.30,1031.75" fill="#FF0066"/>
<polygon points="437.10,1019.45 443.90,1031.75 430.30,1031.75" fill="#FF0066"/>
<polygon points="441.10,1019.45 447.90,1031.75 434.30,1031.75" fill="#FF0066"/>
<polygon points="473.20,982.85 480.10,970.35 466.30,970.35" fill="#107F80"/>
<polygon points="473.70,985.75 480.60,973.25 466.80,973.25" fill="#107F80"/>
<polygon points="472.70,988.75 479.60,976.25 465.80,976.25" fill="#107F80"/>
<polygon points="474.00,991.75 480.90,979.25 467.10,979.25" fill="#107F80"/>
<polygon points="472.40,994.75 479.30,982.25 465.50,982.25" fill="#107F80"/>
<polygon points="473.80,997.75 480.70,985.25 466.90,985.25" fill="#107F80"/>
<polygon points="473.20,1000.75 480.10,988.25 466.30,988.25" fill="#107F80"/>
<polygon points="467.00,1009.75 473.90,997.25 460.10,997.25" fill="#107F80"/>
<polygon points="471.20,1009.75 478.10,997.25 464.30,997.25" fill="#107F80"/>
<polygon points="475.20,1009.75 482.10,997.25 468.30,997.25" fill="#107F80"/>
<polygon points="479.40,1009.75 486.30,997.25 472.50,997.25" fill="#107F80"/>
<polygon points="467.10,1013.25 474.00,1000.75 460.20,1000.75" fill="#107F80"/>
<polygon points="473.20,1013.25 480.10,1000.75 466.30,1000.75" fill="#107F80"/>
<polygon points="479.30,1013.25 486.20,1000.75 472.40,1000.75" fill="#107F80"/>
<polygon points="467.20,1018.75 474.10,1006.25 460.30,1006.25" fill="#107F80"/>
<polygon points="471.20,1018.75 478.10,1006.25 464.30,1006.25" fill="#107F80"/>
<polygon points="475.20,1018.75 482.10,1006.25 468.30,1006.25" fill="#107F80"/>
<polygon points="479.20,1018.75 486.10,1006.25 472.30,1006.25" fill="#107F80"/>
<polygon points="470.20,1024.25 477.10,1011.75 463.30,1011.75" fill="#107F80"/>
<polygon points="473.20,1024.25 480.10,1011.75 466.30,1011.75" fill="#107F80"/>
<polygon points="476.20,1024.25 483.10,1011.75 469.30,1011.75" fill="#107F80"/>
<polygon points="473.20,1029.05 480.10,1016.55 466.30,1016.55" fill="#107F80"/>
<polygon points="507.30,936.95 513.95,943.60 507.30,950.25 500.65,943.60" fill="#40007F"/>
<polygon points="507.30,976.35 513.95,983.00 507.30,989.65 500.65,983.00" fill="#40007F"/>
<polygon points="507.30,981.35 513.95,988.00 507.30,994.65 500.65,988.00" fill="#40007F"/>
<polygon points="504.80,985.35 511.45,992.00 504.80,998.65 498.15,992.00" fill="#40007F"/>
<polygon points="509.80,985.35 516.45,992.00 509.80,998.65 503.15,992.00" fill="#40007F"/>
<polygon points="502.80,990.35 509.45,997.00 502.80,1003.65 496.15,997.00" fill="#40007F"/>
<polygon points="507.30,990.35 513.95,997.00 507.30,1003.65 500.65,997.00" fill="#40007F"/>
<polygon points="511.80,990.35 518.45,997.00 511.80,1003.65 505.15,997.00" fill="#40007F"/>
<polygon points="501.20,996.35 507.85,1003.00 501.20,1009.65 494.55,1003.00" fill="#40007F"/>
<polygon points="507.30,996.35 513.95,1003.00 507.30,1009.65 500.65,1003.00" fill="#40007F"/>
<polygon points="513.40,996.35 520.05,1003.00 513.40,1009.65 506.75,1003.00" fill="#40007F"/>
<polygon points="503.30,1000.35 509.95,1007.00 503.30,1013.65 496.65,1007.00" fill="#40007F"/>
<polygon points="511.30,1000.35 517.95,1007.00 511.30,1013.65 504.65,1007.00" fill="#40007F"/>
<polygon points="507.30,1002.85 513.95,1009.50 507.30,1016.15 500.65,1009.50" fill="#40007F"/>
<polygon points="507.30,1019.75 513.95,1026.40 507.30,1033.05 500.65,1026.40" fill="#40007F"/>
<circle cx="541.40" cy="966.90" r="4.8" fill="#AA66FF"/>
<circle cx="542.40" cy="993.90" r="4.8" fill="#AA66FF"/>
<circle cx="537.40" cy="997.00" r="4.8" fill="#AA66FF"/>
<circle cx="546.40" cy="998.00" r="4.8" fill="#AA66FF"/>
<circle cx="535.40" cy="1002.00" r="4.8" fill="#AA66FF"/>
<circle cx="541.40" cy="1001.00" r="4.8" fill="#AA66FF"/>
<circle cx="547.40" cy="1003.00" r="4.8" fill="#AA66FF"/>
<circle cx="537.40" cy="1007.00" r="4.8" fill="#AA66FF"/>
<circle cx="544.40" cy="1007.00" r="4.8" fill="#AA66FF"/>
<circle cx="546.90" cy="1009.00" r="4.8" fill="#AA66FF"/>
<circle cx="538.40" cy="1012.00" r="4.8" fill="#AA66FF"/>
<circle cx="543.40" cy="1012.00" r="4.8" fill="#AA66FF"/>
<circle cx="539.40" cy="1016.00" r="4.8" fill="#AA66FF"/>
<circle cx="543.40" cy="1016.00" r="4.8" fill="#AA66FF"/>
<circle cx="538.40" cy="1025.50" r="4.8" fill="#AA66FF"/>
<circle cx="541.40" cy="1026.60" r="4.8" fill="#AA66FF"/>
<circle cx="544.40" cy="1025.50" r="4.8" fill="#AA66FF"/>
<circle cx="541.40" cy="1020.00" r="4.8" fill="#AA66FF"/>
<polygon points="575.50,984.50 576.64,987.23 579.59,987.47 577.34,989.40 578.03,992.28 575.50,990.73 572.97,992.28 573.66,989.40 571.41,987.47 574.36,987.23" fill="#66CCFE"/>
<polygon points="574.20,988.00 575.34,990.73 578.29,990.97 576.04,992.90 576.73,995.78 574.20,994.23 571.67,995.78 572.36,992.90 570.11,990.97 573.06,990.73" fill="#66CCFE"/>
<polygon points="576.80,990.30 577.94,993.03 580.89,993.27 578.64,995.20 579.33,998.08 576.80,996.53 574.27,998.08 574.96,995.20 572.71,993.27 575.66,993.03" fill="#66CCFE"/>
<polygon points="573.70,993.20 574.84,995.93 577.79,996.17 575.54,998.10 576.23,1000.98 573.70,999.43 571.17,1000.98 571.86,998.10 569.61,996.17 572.56,995.93" fill="#66CCFE"/>
<polygon points="577.30,995.50 578.44,998.23 581.39,998.47 579.14,1000.40 579.83,1003.28 577.30,1001.73 574.77,1003.28 575.46,1000.40 573.21,998.47 576.16,998.23" fill="#66CCFE"/>
<polygon points="574.50,997.90 575.64,1000.63 578.59,1000.87 576.34,1002.80 577.03,1005.68 574.50,1004.13 571.97,1005.68 572.66,1002.80 570.41,1000.87 573.36,1000.63" fill="#66CCFE"/>
<polygon points="576.50,999.90 577.64,1002.63 580.59,1002.87 578.34,1004.80 579.03,1007.68 576.50,1006.13 573.97,1007.68 574.66,1004.80 572.41,1002.87 575.36,1002.63" fill="#66CCFE"/>
<polygon points="575.50,991.70 576.64,994.43 579.59,994.67 577.34,996.60 578.03,999.48 575.50,997.93 572.97,999.48 573.66,996.60 571.41,994.67 574.36,994.43" fill="#66CCFE"/>
<polygon points="575.50,996.70 576.64,999.43 579.59,999.67 577.34,1001.60 578.03,1004.48 575.50,1002.93 572.97,1004.48 573.66,1001.60 571.41,999.67 574.36,999.43" fill="#66CCFE"/>
<polygon points="569.50,1005.70 570.64,1008.43 573.59,1008.67 571.34,1010.60 572.03,1013.48 569.50,1011.93 566.97,1013.48 567.66,1010.60 565.41,1008.67 568.36,1008.43" fill="#66CCFE"/>
<polygon points="581.50,1005.70 582.64,1008.43 585.59,1008.67 583.34,1010.60 584.03,1013.48 581.50,1011.93 578.97,1013.48 579.66,1010.60 577.41,1008.67 580.36,1008.43" fill="#66CCFE"/>
<polygon points="572.50,1003.70 573.64,1006.43 576.59,1006.67 574.34,1008.60 575.03,1011.48 572.50,1009.93 569.97,1011.48 570.66,1008.60 568.41,1006.67 571.36,1006.43" fill="#66CCFE"/>
<polygon points="578.50,1003.70 579.64,1006.43 582.59,1006.67 580.34,1008.60 581.03,1011.48 578.50,1009.93 575.97,1011.48 576.66,1008.60 574.41,1006.67 577.36,1006.43" fill="#66CCFE"/>
<polygon points="575.50,1006.70 576.64,1009.43 579.59,1009.67 577.34,1011.60 578.03,1014.48 575.50,1012.93 572.97,1014.48 573.66,1011.60 571.41,1009.67 574.36,1009.43" fill="#66CCFE"/>
<polygon points="570.50,1009.70 571.64,1012.43 574.59,1012.67 572.34,1014.60 573.03,1017.48 570.50,1015.93 567.97,1017.48 568.66,1014.60 566.41,1012.67 569.36,1012.43" fill="#66CCFE"/>
<polygon points="580.50,1009.70 581.64,1012.43 584.59,1012.67 582.34,1014.60 583.03,1017.48 580.50,1015.93 577.97,1017.48 578.66,1014.60 576.41,1012.67 579.36,1012.43" fill="#66CCFE"/>
<polygon points="573.50,1010.70 574.64,1013.43 577.59,1013.67 575.34,1015.60 576.03,1018.48 573.50,1016.93 570.97,1018.48 571.66,1015.60 569.41,1013.67 572.36,1013.43" fill="#66CCFE"/>
<polygon points="577.50,1010.70 578.64,1013.43 581.59,1013.67 579.34,1015.60 580.03,1018.48 577.50,1016.93 574.97,1018.48 575.66,1015.60 573.41,1013.67 576.36,1013.43" fill="#66CCFE"/>
<polygon points="568.50,1007.70 569.64,1010.43 572.59,1010.67 570.34,1012.60 571.03,1015.48 568.50,1013.93 565.97,1015.48 566.66,1012.60 564.41,1010.67 567.36,1010.43" fill="#66CCFE"/>
<polygon points="582.50,1007.70 583.64,1010.43 586.59,1010.67 584.34,1012.60 585.03,1015.48 582.50,1013.93 579.97,1015.48 580.66,1012.60 578.41,1010.67 581.36,1010.43" fill="#66CCFE"/>
<polygon points="575.50,1002.70 576.64,1005.43 579.59,1005.67 577.34,1007.60 578.03,1010.48 575.50,1008.93 572.97,1010.48 573.66,1007.60 571.41,1005.67 574.36,1005.43" fill="#66CCFE"/>
<polygon points="572.00,1007.20 573.14,1009.93 576.09,1010.17 573.84,1012.10 574.53,1014.98 572.00,1013.43 569.47,1014.98 570.16,1012.10 567.91,1010.17 570.86,1009.93" fill="#66CCFE"/>
<polygon points="579.00,1007.20 580.14,1009.93 583.09,1010.17 580.84,1012.10 581.53,1014.98 579.00,1013.43 576.47,1014.98 577.16,1012.10 574.91,1010.17 577.86,1009.93" fill="#66CCFE"/>
<polygon points="575.50,1009.20 576.64,1011.93 579.59,1012.17 577.34,1014.10 578.03,1016.98 575.50,1015.43 572.97,1016.98 573.66,1014.10 571.41,1012.17 574.36,1011.93" fill="#66CCFE"/>
<polygon points="574.00,1005.20 575.14,1007.93 578.09,1008.17 575.84,1010.10 576.53,1012.98 574.00,1011.43 571.47,1012.98 572.16,1010.10 569.91,1008.17 572.86,1007.93" fill="#66CCFE"/>
<polygon points="577.00,1005.20 578.14,1007.93 581.09,1008.17 578.84,1010.10 579.53,1012.98 577.00,1011.43 574.47,1012.98 575.16,1010.10 572.91,1008.17 575.86,1007.93" fill="#66CCFE"/>
<polygon points="569.50,1008.70 570.64,1011.43 573.59,1011.67 571.34,1013.60 572.03,1016.48 569.50,1014.93 566.97,1016.48 567.66,1013.60 565.41,1011.67 568.36,1011.43" fill="#66CCFE"/>
<polygon points="581.50,1008.70 582.64,1011.43 585.59,1011.67 583.34,1013.60 584.03,1016.48 581.50,1014.93 578.97,1016.48 579.66,1013.60 577.41,1011.67 580.36,1011.43" fill="#66CCFE"/>
<rect x="601.50" y="1021.40" width="2.4" height="10.2" fill="#000000"/>
<rect x="605.90" y="1021.40" width="2.4" height="10.2" fill="#000000"/>
<rect x="610.30" y="1021.40" width="2.4" height="10.2" fill="#000000"/>
<rect x="615.10" y="1021.40" width="2.4" height="10.2" fill="#000000"/>
<path d="M639.30,987.90L647.90,996.50M639.30,996.50L647.90,987.90" stroke="#FF0066" stroke-width="3" fill="none"/>
<text x="423.8" y="638.6" text-anchor="middle" font-size="29.85" font-weight="bold">Neuraminidase</text>
<text x="423.9" y="1134.20" text-anchor="middle" font-size="25.1" font-weight="bold">Years</text>
<text transform="translate(44.0,851.90) rotate(-90) scale(0.921,1)" text-anchor="middle" font-size="27.3" font-weight="bold">Genetic distance</text>
</g>
</svg>
</body></html>
